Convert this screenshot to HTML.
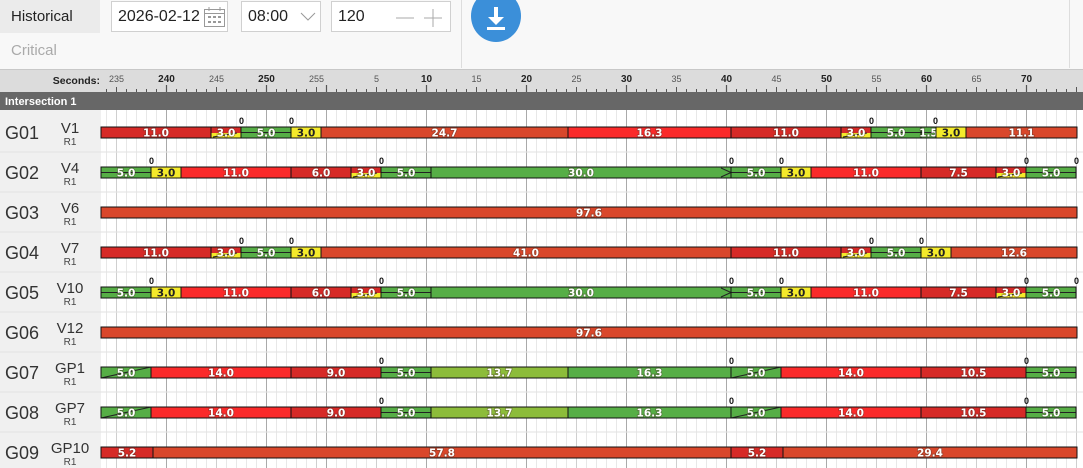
<!DOCTYPE html>
<html><head><meta charset="utf-8">
<style>
body{margin:0;width:1083px;height:468px;overflow:hidden;background:#f8f8f8;font-family:"Liberation Sans",sans-serif;}
.top{position:absolute;left:0;top:0;width:1083px;height:70px;background:#f8f8f8;}
.box{position:absolute;top:1px;height:31px;background:#fff;border:1px solid #d0d0d0;box-sizing:border-box;font-size:16px;color:#222;line-height:30px;padding-left:6px;}
.bt{font-family:"DejaVu Sans","Liberation Sans",sans-serif;font-weight:bold;paint-order:stroke;}
</style></head><body>
<div class="top">
  <div style="position:absolute;left:0;top:0;width:100px;height:33px;background:#ebebeb;font-size:15px;line-height:33px;padding-left:11px;box-sizing:border-box;color:#222">Historical</div>
  <div style="position:absolute;left:0;top:34px;width:100px;height:34px;font-size:15px;line-height:34px;padding-left:11px;box-sizing:border-box;color:#aaa">Critical</div>
  <div class="box" style="left:111px;width:117px">2026-02-12
    <svg style="position:absolute;left:92px;top:5px" width="21" height="20"><rect x="0.5" y="2.5" width="20" height="17" fill="none" stroke="#999"/><line x1="0" y1="6.5" x2="21" y2="6.5" stroke="#999"/><line x1="5" y1="0" x2="5" y2="4" stroke="#999"/><line x1="16" y1="0" x2="16" y2="4" stroke="#999"/><g fill="#999"><rect x="4" y="9" width="3" height="2"/><rect x="9" y="9" width="3" height="2"/><rect x="14" y="9" width="3" height="2"/><rect x="4" y="14" width="3" height="2"/><rect x="9" y="14" width="3" height="2"/><rect x="14" y="14" width="3" height="2"/></g></svg></div>
  <div class="box" style="left:241px;width:80px">08:00
    <svg style="position:absolute;left:58px;top:10px" width="16" height="10"><polyline points="1,1 8,8 15,1" fill="none" stroke="#999"/></svg></div>
  <div class="box" style="left:331px;width:120px">120
    <svg style="position:absolute;left:62px;top:6px" width="50" height="20"><line x1="2" y1="10" x2="20" y2="10" stroke="#aaa"/><line x1="30" y1="10" x2="48" y2="10" stroke="#aaa"/><line x1="39" y1="1" x2="39" y2="19" stroke="#aaa"/></svg></div>
  <div style="position:absolute;left:461px;top:0;width:1px;height:68px;background:#ddd"></div>
  <div style="position:absolute;left:471px;top:-10px;width:50px;height:52px;border-radius:50%;background:#3b8fd9">
    <svg width="50" height="52"><line x1="25" y1="17" x2="25" y2="31" stroke="#fff" stroke-width="4"/><polygon points="17,27 33,27 25,35" fill="#fff"/><rect x="16" y="37" width="18" height="3" fill="#fff"/></svg></div>
  <div style="position:absolute;left:1069px;top:0;width:1px;height:68px;background:#ddd"></div>
</div>
<svg id="chart" style="position:absolute;left:0;top:69px" width="1083" height="399"></svg>
<script>
const rowNames=["G01","G02","G03","G04","G05","G06","G07","G08","G09"];
const phaseNames=["V1","V4","V6","V7","V10","V12","GP1","GP7","GP10"];
const ringNames=["R1","R1","R1","R1","R1","R1","R1","R1","R1"];
const durG01=[11,3,5,3,24.7,16.3,11,3,5,1.5,3,11.1];
const typG01=["R","RY","G","Y","O","BR","R","RY","G","G","Y","O"];
const durG02=[5,3,11,6,3,5,30,5,3,11,7.5,3,5];
const typG02=["G","Y","BR","R","RY","G","GP","G","Y","BR","R","RY","G"];
const durG03=[97.6];const typG03=["O"];
const durG04=[11,3,5,3,41,11,3,5,3,12.6];
const typG04=["R","RY","G","Y","O","R","RY","G","Y","O"];
const durG07=[5,14,9,5,13.7,16.3,5,14,10.5,5];
const typG07=["GD","BR","R","G","LG","GP","GD","BR","R","G"];
const durG09=[5.2,57.8,5.2,29.4];const typG09=["R","O","R","O"];
const zeroG01=[-8.5,-3.5,54.5,60.9];
const zeroG02=[-17.5,5.5,40.5,45.5,70,75];
const zeroG04=[-8.5,-3.5,54.5,59.5];
const zeroG07=[5.5,40.5,70];
const durs=[durG01,durG02,durG03,durG04,durG02,durG03,durG07,durG07,durG09];
const typs=[typG01,typG02,typG03,typG04,typG02,typG03,typG07,typG07,typG09];
const zeros=[zeroG01,zeroG02,[],zeroG04,zeroG02,[],zeroG07,zeroG07,[]];
const cycleLen=256, tStart=-22.55;
const X0=326.5, PX=10;
const x=t=>X0+t*PX;
const colors={R:"#d62a27",BR:"#fa2a2a",O:"#d9472b",G:"#56ae46",GP:"#56ae46",GD:"#56ae46",LG:"#8cbc3a",Y:"#f4ea2b"};
const svg=document.getElementById('chart');const NS="http://www.w3.org/2000/svg";
function el(tag,a,p){const e=document.createElementNS(NS,tag);for(const k in a)e.setAttribute(k,a[k]);(p||svg).appendChild(e);return e;}
const ruler=el('rect',{x:0,y:0,width:1083,height:23,fill:"#dcdcdc"});


el('rect',{x:0,y:0,width:1083,height:1,fill:"#c8c8c8"});
const sl=el('text',{x:100,y:15,'font-size':10.5,'font-weight':'bold','text-anchor':'end',fill:'#222'});sl.textContent="Seconds:";


el('rect',{x:101,y:41,width:982,height:358,fill:"#fff"});
el('rect',{x:0,y:41,width:101,height:358,fill:"#f0f0f0"});
for(let t=Math.ceil(tStart);t<=76;t++){
  const xx=x(t);if(xx<101)continue;
  const lab=((t%cycleLen)+cycleLen)%cycleLen;
  const m10=lab%10===0,m5=lab%5===0;
  el('line',{x1:xx,y1:m10?16:(m5?18:20),x2:xx,y2:23,stroke:'#555','stroke-width':m10?1.2:1});
  if(m5&&lab!==0&&xx<1060){const tx=el('text',{x:xx,y:13,'font-size':m10?10:9,'font-weight':m10?'bold':'normal','text-anchor':'middle',fill:m10?'#222':'#555'});tx.textContent=lab;
    
    }
  el('line',{x1:xx,y1:41,x2:xx,y2:399,stroke:m10?'#aaa':(m5?'#cfcfcf':'#e8e8e8'),'stroke-width':1});
}
const band=el('rect',{x:0,y:23,width:1083,height:18,fill:"#676767"});


const bt=el('text',{x:5,y:36,'font-size':11,'font-weight':'bold',fill:'#fff'});bt.textContent="Intersection 1";
rowNames.forEach((nm,i)=>{
  const top=43+i*40;
  el('line',{x1:0,y1:top+40,x2:1083,y2:top+40,stroke:'#e2e2e2'});
  const g=el('g',{});
  
  
  const t1=el('text',{x:5,y:top+27,'font-size':18,fill:'#333'},g);t1.textContent=nm;
  const t2=el('text',{x:70,y:top+21,'font-size':15,fill:'#333','text-anchor':'middle'},g);t2.textContent=phaseNames[i];
  const t3=el('text',{x:70,y:top+33,'font-size':10,fill:'#444','text-anchor':'middle'},g);t3.textContent=ringNames[i];
  const by=top+15,bh=11;
  let t=tStart;
  durs[i].forEach((d,j)=>{
    const ty=typs[i][j];const x1=x(t),x2=x(t+d),w=x2-x1;
    const seg=el('g',{},g);
    
    
    if(ty==="RY"){el('rect',{x:x1,y:by,width:w,height:bh,fill:colors.R},seg);el('rect',{x:x1,y:by+6,width:w,height:5,fill:colors.Y},seg);
      el('line',{x1:x1+2,y1:by+10,x2:x2-4,y2:by+6,stroke:'#222','stroke-width':1},seg);}
    else el('rect',{x:x1,y:by,width:w,height:bh,fill:colors[ty]},seg);
    if(ty==="G")el('line',{x1:x1,y1:by+5.5,x2:x2,y2:by+5.5,stroke:'#222','stroke-width':1},seg);
    if(ty==="GD")el('line',{x1:x1,y1:by+bh,x2:x2,y2:by,stroke:'#222','stroke-width':1},seg);
    if(ty==="GP"&&w>200)el('polyline',{points:`${x2-10},${by+1} ${x2},${by+5.5} ${x2-10},${by+10}`,fill:'none',stroke:'#222'},seg);
    el('rect',{x:x1,y:by,width:w,height:bh,fill:'none',stroke:'#111','stroke-width':1},seg);
    const tx=el('text',{class:'bt',x:(x1+x2)/2,y:by+9.5,'font-size':10.5,'text-anchor':'middle',fill:ty==="Y"?'#222':'#fff',stroke:ty==="Y"?'none':'rgba(70,50,40,0.45)','stroke-width':1.5},seg);
    tx.textContent=d.toFixed(1);
    t+=d;
  });
  zeros[i].forEach(z=>{const zt=el('text',{x:x(z),y:by-3,'font-size':9,'font-weight':'bold','text-anchor':'middle',fill:'#111'},g);zt.textContent="0";
    
    });
});
</script>
</body></html>
